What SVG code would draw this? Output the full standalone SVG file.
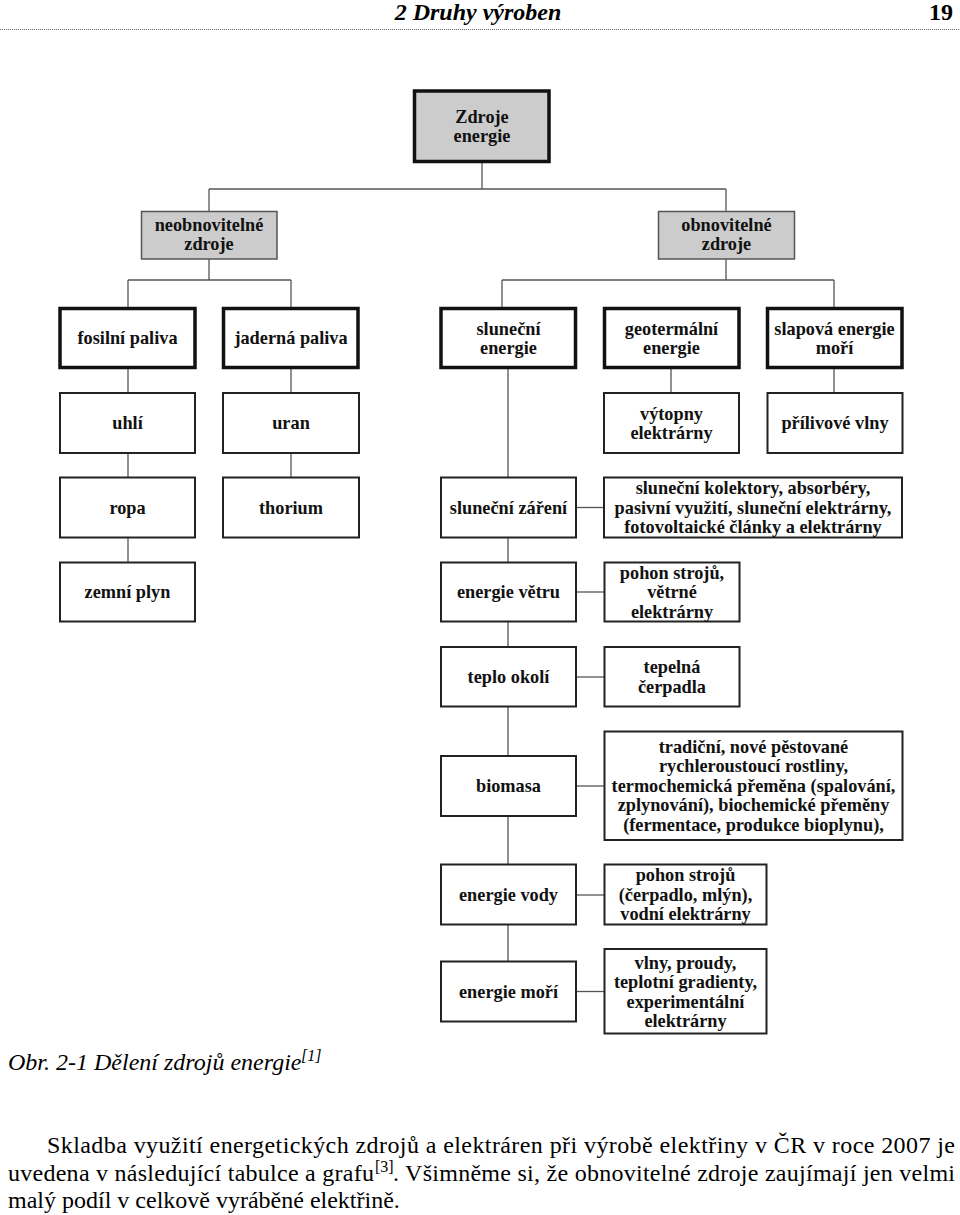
<svg xmlns="http://www.w3.org/2000/svg" width="960" height="1215" viewBox="0 0 960 1215">
<style>
.bg{fill:#ffffff}
.thick{fill:#ffffff;stroke:#111;stroke-width:3.5}
.root{fill:#cccccc;stroke:#111;stroke-width:3.5}
.grey{fill:#cccccc;stroke:#555;stroke-width:1.5}
.box{fill:#ffffff;stroke:#222;stroke-width:2}
.lbl{font-family:"Liberation Serif","Times New Roman",serif;font-weight:bold;font-size:18.3px;fill:#111;text-anchor:middle}
.con line{stroke:#555;stroke-width:1.3}
.hdr{font-family:"Liberation Serif","Times New Roman",serif;font-size:24px;fill:#000}
.body{font-family:"Liberation Serif","Times New Roman",serif;font-size:24px;fill:#000}
.sup{font-family:"Liberation Serif","Times New Roman",serif;font-size:16px;fill:#000}
</style>
<rect class="bg" x="0" y="0" width="960" height="1215"/>

<!-- header -->
<text class="hdr" x="478" y="20" text-anchor="middle" font-weight="bold" font-style="italic">2 Druhy výroben</text>
<text class="hdr" x="953" y="20" text-anchor="end" font-weight="bold">19</text>
<line x1="0" y1="29.5" x2="960" y2="29.5" stroke="#666" stroke-width="1" stroke-dasharray="1 1"/>

<!-- connectors -->
<g id="connectors" class="con">
<line x1="482" y1="163" x2="482" y2="189"/>
<line x1="209" y1="189" x2="726" y2="189"/>
<line x1="209" y1="189" x2="209" y2="211"/>
<line x1="726" y1="189" x2="726" y2="211"/>
<line x1="209" y1="259" x2="209" y2="280"/>
<line x1="128" y1="280" x2="291" y2="280"/>
<line x1="128" y1="280" x2="128" y2="307"/>
<line x1="291" y1="280" x2="291" y2="307"/>
<line x1="726" y1="259" x2="726" y2="280"/>
<line x1="502" y1="280" x2="834" y2="280"/>
<line x1="502" y1="280" x2="502" y2="307"/>
<line x1="834" y1="280" x2="834" y2="307"/>
<line x1="128" y1="369" x2="128" y2="393"/>
<line x1="128" y1="453" x2="128" y2="477"/>
<line x1="128" y1="538" x2="128" y2="562"/>
<line x1="291" y1="369" x2="291" y2="393"/>
<line x1="291" y1="453" x2="291" y2="477"/>
<line x1="671" y1="369" x2="671" y2="393"/>
<line x1="834" y1="369" x2="834" y2="393"/>
<line x1="508" y1="369" x2="508" y2="961"/>
<line x1="577" y1="507.5" x2="604" y2="507.5"/>
<line x1="577" y1="592" x2="604" y2="592"/>
<line x1="577" y1="677" x2="604" y2="677"/>
<line x1="577" y1="786" x2="604" y2="786"/>
<line x1="577" y1="895" x2="604" y2="895"/>
<line x1="577" y1="991.5" x2="604" y2="991.5"/>
</g>

<g id="n-zdroje"><rect class="root" x="414.5" y="91" width="134.5" height="70.5"/>
<text class="lbl" x="482" y="122.5">Zdroje</text><text class="lbl" x="482" y="142">energie</text></g>

<g id="n-neobnovitelne"><rect class="grey" x="141.5" y="211.5" width="135.5" height="47.5"/>
<text class="lbl" x="209" y="231">neobnovitelné</text><text class="lbl" x="209" y="250">zdroje</text></g>
<g id="n-obnovitelne"><rect class="grey" x="658.5" y="211.5" width="136" height="47.5"/>
<text class="lbl" x="726.5" y="231">obnovitelné</text><text class="lbl" x="726.5" y="250">zdroje</text></g>

<g id="n-fosilni"><rect class="thick" x="60" y="308.5" width="135" height="59"/>
<text class="lbl" x="127.5" y="344">fosilní paliva</text></g>
<g id="n-jaderna"><rect class="thick" x="223.5" y="308.5" width="134.5" height="59"/>
<text class="lbl" x="291" y="344">jaderná paliva</text></g>
<g id="n-slunecni"><rect class="thick" x="441" y="308.5" width="134.5" height="59"/>
<text class="lbl" x="508.5" y="334.5">sluneční</text><text class="lbl" x="508.5" y="354">energie</text></g>
<g id="n-geotermalni"><rect class="thick" x="604.5" y="308.5" width="134.5" height="59"/>
<text class="lbl" x="671.5" y="334.5">geotermální</text><text class="lbl" x="671.5" y="354">energie</text></g>
<g id="n-slapova"><rect class="thick" x="767.5" y="308.5" width="134.5" height="59"/>
<text class="lbl" x="834.5" y="334.5">slapová energie</text><text class="lbl" x="834.5" y="354">moří</text></g>

<g id="n-uhli"><rect class="box" x="60" y="393" width="135" height="60"/>
<text class="lbl" x="127.5" y="429">uhlí</text></g>
<g id="n-uran"><rect class="box" x="223" y="393" width="136" height="60"/>
<text class="lbl" x="291" y="429">uran</text></g>
<g id="n-vytopny"><rect class="box" x="604" y="393" width="135" height="60"/>
<text class="lbl" x="671.5" y="419.5">výtopny</text><text class="lbl" x="671.5" y="439">elektrárny</text></g>
<g id="n-prilivove"><rect class="box" x="767.5" y="393" width="135" height="60"/>
<text class="lbl" x="835" y="429">přílivové vlny</text></g>

<g id="n-ropa"><rect class="box" x="60" y="477.5" width="135" height="60"/>
<text class="lbl" x="127.5" y="513.5">ropa</text></g>
<g id="n-thorium"><rect class="box" x="223" y="477.5" width="136" height="60"/>
<text class="lbl" x="291" y="513.5">thorium</text></g>
<g id="n-zareni"><rect class="box" x="441" y="477.5" width="135" height="60"/>
<text class="lbl" x="508.5" y="513.5">sluneční záření</text></g>
<g id="n-kolektory"><rect class="box" x="604" y="477.5" width="298" height="60"/>
<text class="lbl" x="753" y="494">sluneční kolektory, absorbéry,</text>
<text class="lbl" x="753" y="513.5">pasivní využití, sluneční elektrárny,</text>
<text class="lbl" x="753" y="533">fotovoltaické články a elektrárny</text></g>

<g id="n-zemni"><rect class="box" x="60" y="562.5" width="135" height="59"/>
<text class="lbl" x="127.5" y="598">zemní plyn</text></g>
<g id="n-vetru"><rect class="box" x="441" y="562.5" width="135" height="59"/>
<text class="lbl" x="508.5" y="598">energie větru</text></g>
<g id="n-pohon1"><rect class="box" x="604.5" y="562.5" width="135" height="59"/>
<text class="lbl" x="672" y="578.5">pohon strojů,</text>
<text class="lbl" x="672" y="598">větrné</text>
<text class="lbl" x="672" y="617.5">elektrárny</text></g>

<g id="n-teplo"><rect class="box" x="441" y="647" width="135" height="59.5"/>
<text class="lbl" x="508.5" y="683">teplo okolí</text></g>
<g id="n-cerpadla"><rect class="box" x="604.5" y="647" width="135" height="59.5"/>
<text class="lbl" x="672" y="673">tepelná</text>
<text class="lbl" x="672" y="692.5">čerpadla</text></g>

<g id="n-biomasa"><rect class="box" x="441" y="756" width="135" height="60"/>
<text class="lbl" x="508.5" y="792">biomasa</text></g>
<g id="n-rostliny"><rect class="box" x="604.5" y="731.5" width="298" height="108.5"/>
<text class="lbl" x="753.5" y="752.5">tradiční, nové pěstované</text>
<text class="lbl" x="753.5" y="772">rychleroustoucí rostliny,</text>
<text class="lbl" x="753.5" y="791.5">termochemická přeměna (spalování,</text>
<text class="lbl" x="753.5" y="811">zplynování), biochemické přeměny</text>
<text class="lbl" x="753.5" y="830.5">(fermentace, produkce bioplynu),</text></g>

<g id="n-vody"><rect class="box" x="441" y="864.5" width="135" height="60"/>
<text class="lbl" x="508.5" y="900.5">energie vody</text></g>
<g id="n-pohon2"><rect class="box" x="604.5" y="864.5" width="162" height="60"/>
<text class="lbl" x="685.5" y="881">pohon strojů</text>
<text class="lbl" x="685.5" y="900.5">(čerpadlo, mlýn),</text>
<text class="lbl" x="685.5" y="920">vodní elektrárny</text></g>

<g id="n-mori"><rect class="box" x="441" y="961.5" width="135" height="60"/>
<text class="lbl" x="508.5" y="997.5">energie moří</text></g>
<g id="n-vlny"><rect class="box" x="604.5" y="949" width="162" height="84.5"/>
<text class="lbl" x="685.5" y="968.5">vlny, proudy,</text>
<text class="lbl" x="685.5" y="988">teplotní gradienty,</text>
<text class="lbl" x="685.5" y="1007.5">experimentální</text>
<text class="lbl" x="685.5" y="1027">elektrárny</text></g>

<!-- caption and body text -->
<text class="body" x="8" y="1070" font-style="italic">Obr. 2-1 Dělení zdrojů energie</text>
<text class="sup" x="301" y="1061" font-style="italic">[1]</text>

<text class="body" x="47" y="1153" textLength="908" lengthAdjust="spacing">Skladba využití energetických zdrojů a elektráren při výrobě elektřiny v ČR v roce 2007 je</text>
<text class="body" x="8" y="1181" textLength="366" lengthAdjust="spacing">uvedena v následující tabulce a grafu</text>
<text class="sup" x="375" y="1172">[3]</text>
<text class="body" x="393" y="1181" textLength="562" lengthAdjust="spacing">. Všimněme si, že obnovitelné zdroje zaujímají jen velmi</text>
<text class="body" x="8" y="1208">malý podíl v celkově vyráběné elektřině.</text>
</svg>
